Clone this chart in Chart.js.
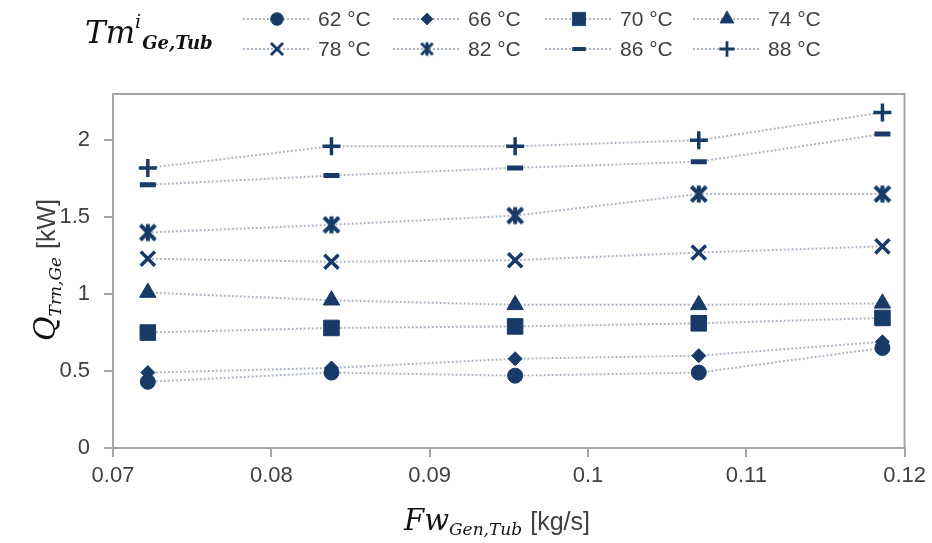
<!DOCTYPE html>
<html>
<head>
<meta charset="utf-8">
<script src="https://cdn.jsdelivr.net/npm/chart.js@4/dist/chart.umd.min.js"></script>
<style>
  html, body { margin: 0; padding: 0; background: #fff; }
  #wrap { width: 932px; height: 543px; position: relative; }
</style>
</head>
<body>
<div id="wrap"><canvas id="qChart" width="932" height="543"></canvas></div>
<script>
// data
const fwValues = [0.0722, 0.0838, 0.0954, 0.107, 0.1186];
const tempLabels = ['62 °C', '66 °C', '70 °C', '74 °C', '78 °C', '82 °C', '86 °C', '88 °C'];
const q62 = [0.43, 0.49, 0.47, 0.49, 0.65];
const q66 = [0.49, 0.52, 0.58, 0.60, 0.69];
const q70 = [0.75, 0.78, 0.79, 0.81, 0.845];
const q74 = [1.01, 0.96, 0.93, 0.93, 0.94];
const q78 = [1.23, 1.21, 1.22, 1.27, 1.31];
const q82 = [1.40, 1.45, 1.51, 1.65, 1.65];
const q86 = [1.71, 1.77, 1.82, 1.86, 2.04];
const q88 = [1.82, 1.96, 1.96, 2.00, 2.18];
const xTicks = [0.07, 0.08, 0.09, 0.1, 0.11, 0.12];
const yTicks = [0, 0.5, 1, 1.5, 2];

const navy = '#173a66';
const lineCol = 'rgba(165,174,190,0.9)';
const narrow = "'Liberation Sans Narrow', 'Liberation Sans', Arial, sans-serif";
const serif = "'DejaVu Serif', 'Liberation Serif', serif";

// excel-like star marker: an x crossed by a vertical bar
function starIcon(size, lw) {
  const c = document.createElement('canvas');
  c.width = size; c.height = size;
  const g = c.getContext('2d');
  const h = size / 2, d = size * 0.34;
  g.strokeStyle = navy;
  g.lineWidth = lw;
  g.beginPath();
  g.moveTo(h - d, h - d); g.lineTo(h + d, h + d);
  g.moveTo(h + d, h - d); g.lineTo(h - d, h + d);
  g.moveTo(h, h - d * 1.15); g.lineTo(h, h + d * 1.15);
  g.stroke();
  return c;
}
const starBig = starIcon(22, 4);
const starSmall = starIcon(17, 3);

const seriesValues = [q62, q66, q70, q74, q78, q82, q86, q88];
const markers = [
  { style: 'circle', r: 7.5, bw: 1 },
  { style: 'rectRot', r: 7, bw: 1 },
  { style: 'rect', r: 11, bw: 1 },
  { style: 'triangle', r: 9.5, bw: 1 },
  { style: 'crossRot', r: 10, bw: 3.5 },
  { style: starBig, r: 10, bw: 1 },
  { style: 'line', r: 8, bw: 5 },
  { style: 'cross', r: 9, bw: 3.5 }
];

const datasets = seriesValues.map((vals, i) => ({
  label: tempLabels[i],
  data: vals.map((v, j) => ({ x: fwValues[j], y: v })),
  showLine: true,
  borderColor: lineCol,
  borderWidth: 2,
  borderDash: [2, 2],
  tension: 0,
  pointStyle: markers[i].style,
  pointRadius: markers[i].r,
  pointBorderWidth: markers[i].bw,
  pointBackgroundColor: navy,
  pointBorderColor: navy
}));

function drawRich(ctx, parts, x, y, align) {
  let total = 0;
  parts.forEach(p => { ctx.font = p.font; p.w = ctx.measureText(p.text).width; total += p.w + (p.gap || 0); });
  let cx = align === 'center' ? x - total / 2 : x;
  ctx.textAlign = 'left';
  ctx.textBaseline = 'alphabetic';
  parts.forEach(p => {
    ctx.font = p.font;
    ctx.fillStyle = p.color || '#222';
    ctx.fillText(p.text, cx, y + (p.dy || 0));
    cx += p.w + (p.gap || 0);
  });
}

function drawMarker(ctx, m, x, y) {
  ctx.save();
  ctx.fillStyle = navy;
  ctx.strokeStyle = navy;
  ctx.lineWidth = m.bw;
  if (typeof m.style !== 'string') {
    ctx.drawImage(m.style, x - m.style.width / 2, y - m.style.height / 2);
  } else if (Chart.helpers && Chart.helpers.drawPoint) {
    Chart.helpers.drawPoint(ctx, { pointStyle: m.style, radius: m.r, rotation: 0, borderWidth: m.bw }, x, y);
  } else {
    ctx.beginPath(); ctx.arc(x, y, m.r, 0, Math.PI * 2); ctx.fill();
  }
  ctx.restore();
}

const decorPlugin = {
  id: 'decor',
  afterDraw(chart) {
    const ctx = chart.ctx;
    const a = chart.chartArea;
    ctx.save();
    // top and right frame
    ctx.strokeStyle = '#a6a6a6';
    ctx.lineWidth = 2;
    ctx.beginPath();
    ctx.moveTo(a.left, a.top);
    ctx.lineTo(a.right, a.top);
    ctx.lineTo(a.right, a.bottom);
    ctx.stroke();

    // legend title
    drawRich(ctx, [
      { text: 'Tm', font: 'italic 31px ' + serif, color: '#111' },
      { text: 'i', font: 'italic 19px ' + serif, dy: -15, color: '#111', gap: 1 },
      { text: 'Ge,Tub', font: 'italic bold 18px ' + serif, dy: 6, color: '#111' }
    ], 85, 43, 'left');

    // legend entries, two rows of four
    const colX = [243, 393, 545, 693];
    const rowY = [19, 49];
    chart.data.datasets.forEach((ds, i) => {
      const x0 = colX[i % 4], y0 = rowY[Math.floor(i / 4)];
      ctx.save();
      ctx.strokeStyle = lineCol;
      ctx.lineWidth = 2;
      ctx.setLineDash([2, 2]);
      ctx.beginPath();
      ctx.moveTo(x0, y0);
      ctx.lineTo(x0 + 68, y0);
      ctx.stroke();
      ctx.restore();
      const m = markers[i];
      const lm = typeof m.style === 'string'
        ? { style: m.style, r: m.r * 0.85, bw: m.bw * 0.8 }
        : { style: starSmall };
      drawMarker(ctx, lm, x0 + 34, y0);
      ctx.font = '21px ' + narrow;
      ctx.fillStyle = '#404040';
      ctx.textAlign = 'left';
      ctx.textBaseline = 'middle';
      ctx.fillText(ds.label, x0 + 75, y0 + 1);
    });

    // x axis title
    drawRich(ctx, [
      { text: 'Fw', font: 'italic 29px ' + serif, color: '#111' },
      { text: 'Gen,Tub', font: 'italic 17px ' + serif, dy: 5, color: '#111', gap: 8 },
      { text: '[kg/s]', font: '25px ' + narrow, color: '#404040' }
    ], 497, 530, 'center');

    // y axis title
    ctx.translate(46, 270);
    ctx.rotate(-Math.PI / 2);
    drawRich(ctx, [
      { text: 'Q', font: 'italic 30px ' + serif, color: '#111' },
      { text: 'Trn,Ge', font: 'italic 17px ' + serif, dy: 6, color: '#111', gap: 8 },
      { text: '[kW]', font: '25px ' + narrow, color: '#404040' }
    ], 0, 9, 'center');
    ctx.restore();
  }
};

new Chart(document.getElementById('qChart'), {
  type: 'scatter',
  data: { datasets },
  options: {
    responsive: false,
    animation: false,
    layout: { padding: { left: 0, top: 94, right: 27, bottom: 0 } },
    plugins: { legend: { display: false }, tooltip: { enabled: false } },
    scales: {
      x: {
        type: 'linear',
        min: 0.07,
        max: 0.12,
        afterBuildTicks: s => { s.ticks = xTicks.map(v => ({ value: v })); },
        afterFit: s => { s.height = 95; },
        ticks: {
          color: '#404040',
          font: { family: narrow, size: 22 },
          padding: 6,
          maxRotation: 0,
          callback: v => String(+v.toFixed(2))
        },
        grid: { drawOnChartArea: false, drawTicks: true, tickLength: 9, color: '#a6a6a6', lineWidth: 2 },
        border: { display: true, color: '#a6a6a6', width: 2 }
      },
      y: {
        min: 0,
        max: 2.3,
        afterBuildTicks: s => { s.ticks = yTicks.map(v => ({ value: v })); },
        afterFit: s => { s.width = 113; },
        ticks: {
          color: '#404040',
          font: { family: narrow, size: 22 },
          padding: 14,
          callback: v => String(v)
        },
        grid: { drawOnChartArea: false, drawTicks: true, tickLength: 9, color: '#a6a6a6', lineWidth: 2 },
        border: { display: true, color: '#a6a6a6', width: 2 }
      }
    }
  },
  plugins: [decorPlugin]
});
</script>
</body>
</html>
